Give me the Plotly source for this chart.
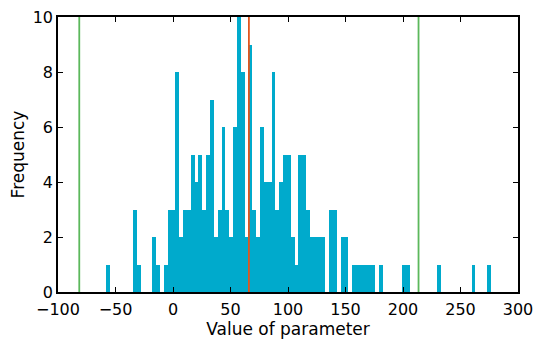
import plotly.graph_objects as go

# Histogram definition (100 bins)
bin_start = -58.2
bin_width = 3.346
counts = [
    1, 0, 0, 0, 0, 0, 0, 3, 1, 0,
    0, 0, 2, 1, 0, 1, 3, 3, 8, 2,
    3, 3, 5, 4, 5, 3, 5, 7, 2, 3,
    6, 3, 2, 6, 10, 8, 2, 9, 3, 2,
    6, 4, 4, 8, 3, 4, 5, 5, 2, 1,
    5, 5, 3, 2, 2, 2, 2, 0, 3, 3,
    0, 2, 2, 0, 1, 1, 1, 1, 1, 1,
    0, 1, 0, 0, 0, 0, 0, 1, 1, 0,
    0, 0, 0, 0, 0, 0, 1, 0, 0, 0,
    0, 0, 0, 0, 0, 1, 0, 0, 0, 1,
]
mean_value = 66.0
lower_bound = -81.5
upper_bound = 213.5

x_ticks = [-100, -50, 0, 50, 100, 150, 200, 250, 300]
x_tick_labels = ["\u2212100", "\u221250", "0", "50", "100", "150", "200", "250", "300"]
y_ticks = [0, 2, 4, 6, 8, 10]

centers = [bin_start + bin_width * (i + 0.5) for i in range(len(counts))]

fig = go.Figure()
fig.add_trace(go.Bar(
    x=centers, y=counts, width=bin_width,
    marker=dict(color="#00AACC", line=dict(width=0)),
    showlegend=False,
))

for v, c in [(lower_bound, "#5CB85C"), (upper_bound, "#5CB85C"), (mean_value, "#E0561E")]:
    fig.add_vline(x=v, line=dict(color=c, width=1.8), layer="above")

tick_font = dict(family="DejaVu Sans", size=16, color="black")
title_font = dict(family="DejaVu Sans", size=17, color="black")
fig.update_layout(
    width=536, height=340,
    margin=dict(l=58, r=18, t=17, b=48),
    paper_bgcolor="white", plot_bgcolor="white",
    bargap=0, font=tick_font,
    xaxis=dict(
        range=[-100, 300], tickvals=x_ticks, ticktext=x_tick_labels,
        showgrid=False, zeroline=False, showline=True, linecolor="black", linewidth=1.5,
        mirror="ticks", ticks="inside", ticklen=5, tickcolor="black", tickwidth=1,
        tickfont=tick_font, ticklabelstandoff=2, automargin=False,
        title=dict(text="Value of parameter", standoff=3, font=title_font),
    ),
    yaxis=dict(
        range=[0, 10], tickvals=y_ticks,
        showgrid=False, zeroline=False, showline=True, linecolor="black", linewidth=1.5,
        mirror="ticks", ticks="inside", ticklen=5, tickcolor="black", tickwidth=1,
        tickfont=tick_font, automargin=False,
        title=dict(text="Frequency", standoff=4, font=title_font),
    ),
)

fig.write_html("out.html")
